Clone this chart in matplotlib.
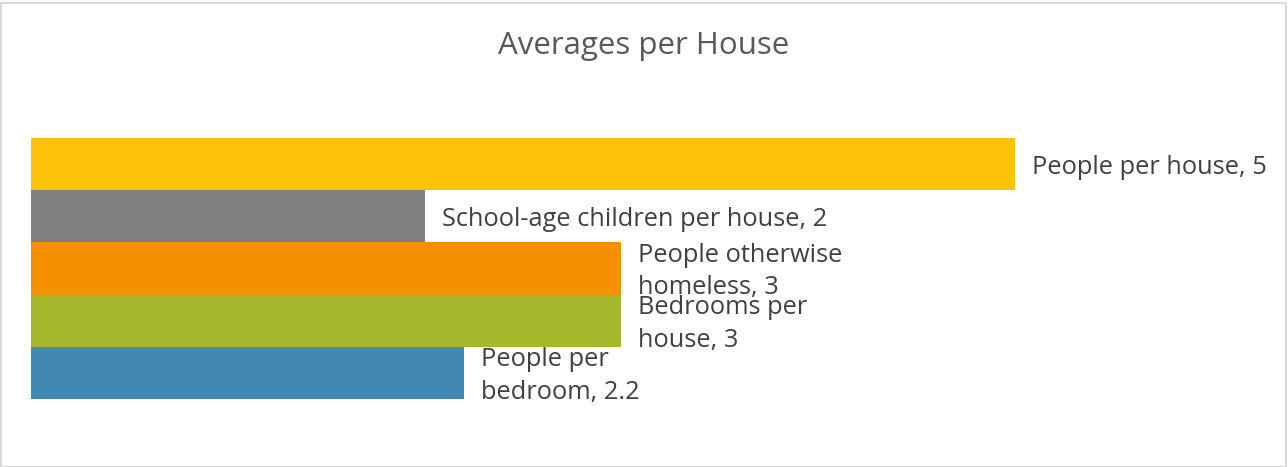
import matplotlib.pyplot as plt

# Data (top to bottom as drawn)
categories = ['People per house', 'School-age children per house',
              'People otherwise\nhomeless', 'Bedrooms per\nhouse',
              'People per\nbedroom']
values = [5, 2, 3, 3, 2.2]
value_labels = ['5', '2', '3', '3', '2.2']
colors = ['#FFC20A', '#808080', '#F59100', '#A5B72A', '#4189B4']

W, H = 1288, 467
fig = plt.figure(figsize=(W / 100, H / 100), dpi=100)
plt.rcParams['font.family'] = ['Open Sans', 'DejaVu Sans']

# axes placed so that 0..5 spans the bar area
ax = fig.add_axes([31 / W, (H - 399) / H, 984 / W, 261 / H])
ypos = list(range(len(values)))
ax.barh(ypos, values, height=1.0, color=colors)
ax.set_xlim(0, 5)
ax.set_ylim(len(values) - 0.5, -0.5)
ax.axis('off')

for y, v, cat, lab in zip(ypos, values, categories, value_labels):
    ax.annotate(f'{cat}, {lab}', xy=(v, y), xytext=(17, -3),
                textcoords='offset pixels', va='center', ha='left',
                fontsize=18.3, color='#404040', linespacing=1.42,
                annotation_clip=False)

fig.text(0.5, 1 - 46 / H, 'Averages per House', ha='center', va='center',
         fontsize=22.5, color='#595959')

# light chart border
fig.patches.append(plt.Rectangle((0.5 / W, 0.5 / H), 1 - 3 / W, 1 - 3 / H,
                                 transform=fig.transFigure, fill=False,
                                 edgecolor='#D9D9D9', linewidth=1.5))

fig.savefig('out.png', dpi=100)
